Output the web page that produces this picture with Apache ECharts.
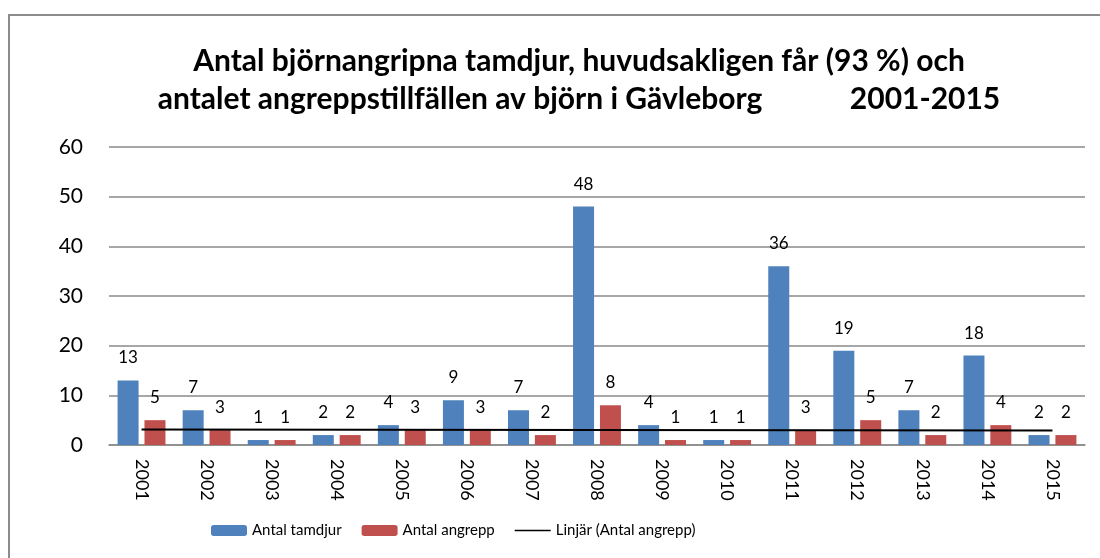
<!DOCTYPE html>
<html>
<head>
<meta charset="utf-8">
<script src="https://cdn.jsdelivr.net/npm/echarts@6/dist/echarts.min.js"></script>
<style>
  html, body { margin: 0; padding: 0; background: #fff; }
  #chart { width: 1100px; height: 558px; }
</style>
</head>
<body>
<div id="chart"></div>
<script>
// årtal
var years = ['2001','2002','2003','2004','2005','2006','2007','2008','2009','2010','2011','2012','2013','2014','2015'];
// antal björnangripna tamdjur
var tamdjur = [13, 7, 1, 2, 4, 9, 7, 48, 4, 1, 36, 19, 7, 18, 2];
// antal angreppstillfällen
var angrepp = [5, 3, 1, 2, 3, 3, 2, 8, 1, 1, 3, 5, 2, 4, 2];
// linjär trend (avläst start/slut)
var trendStart = 3.1;
var trendEnd = 2.9;
var yTicks = [0, 10, 20, 30, 40, 50, 60];

var fontName = 'Lato';

//bygg trendlinje: bara ändpunkter, resten null
var trendData = [];
for (var i = 0; i < years.length; i++) {
    trendData.push(null);
}
trendData[0] = trendStart;
trendData[years.length - 1] = trendEnd;

var chart = echarts.init(document.getElementById('chart'));

var option = {
    animation: false,
    backgroundColor: '#fff',
    textStyle: { fontFamily: fontName },
    graphic: [{
        type: 'rect',
        shape: { x: 9, y: 15, width: 1100, height: 560 },
        style: { fill: 'none', stroke: '#8c8c8c', lineWidth: 2 },
        z: 100
    }, {
        type: 'text',
        x: 579,
        y: 42,
        style: {
            text: 'Antal björnangripna tamdjur, huvudsakligen får (93 %) och\nantalet angreppstillfällen av björn i Gävleborg            2001-2015',
            fontFamily: fontName,
            fontWeight: 'bold',
            fontSize: 30,
            lineHeight: 38,
            fill: '#000',
            align: 'center'
        }
    }],
    legend: {
        left: 206,
        top: 518,
        itemWidth: 36,
        itemHeight: 11,
        itemGap: 20,
        textStyle: { fontSize: 15, color: '#000', fontFamily: fontName },
        data: [
            'Antal tamdjur',
            'Antal angrepp',
            { name: 'Linjär (Antal angrepp)', icon: 'path://M0,0L0.01,0L0.01,11L0,11ZM0,4.8H36V6.2H0Z' }
        ]
    },
    grid: {
        left: 109,
        right: 15,
        top: 147,
        bottom: 113
    },
    xAxis: {
        type: 'category',
        data: years,
        axisLine: { show: true, lineStyle: { color: '#8a8a8a', width: 1.5 } },
        axisTick: { show: false },
        axisLabel: {
            rotate: -90,
            margin: 14,
            fontSize: 18,
            color: '#000',
            fontFamily: fontName
        }
    },
    yAxis: {
        type: 'value',
        min: 0,
        max: 60,
        interval: 10,
        axisLine: { show: false },
        axisTick: { show: false },
        axisLabel: {
            margin: 26,
            fontSize: 21,
            color: '#000',
            fontFamily: fontName,
            formatter: function (v) { return yTicks.indexOf(v) >= 0 ? String(v) : ''; }
        },
        splitLine: { lineStyle: { color: '#8a8a8a', width: 1.5 } }
    },
    series: [{
        name: 'Antal tamdjur',
        type: 'bar',
        data: tamdjur,
        barWidth: 21,
        barGap: '28%',
        itemStyle: { color: '#4F81BD' },
        label: {
            show: true,
            position: 'top',
            distance: 14,
            fontSize: 17,
            color: '#000',
            fontFamily: fontName
        }
    }, {
        name: 'Antal angrepp',
        type: 'bar',
        data: angrepp,
        barWidth: 21,
        barGap: '28%',
        itemStyle: { color: '#C0504D' },
        label: {
            show: true,
            position: 'top',
            distance: 14,
            fontSize: 17,
            color: '#000',
            fontFamily: fontName
        }
    }, {
        name: 'Linjär (Antal angrepp)',
        type: 'line',
        data: trendData,
        connectNulls: true,
        symbol: 'none',
        z: 5,
        lineStyle: { color: '#000', width: 2 },
        itemStyle: { color: '#000' }
    }]
};

chart.setOption(option);
</script>
</body>
</html>
